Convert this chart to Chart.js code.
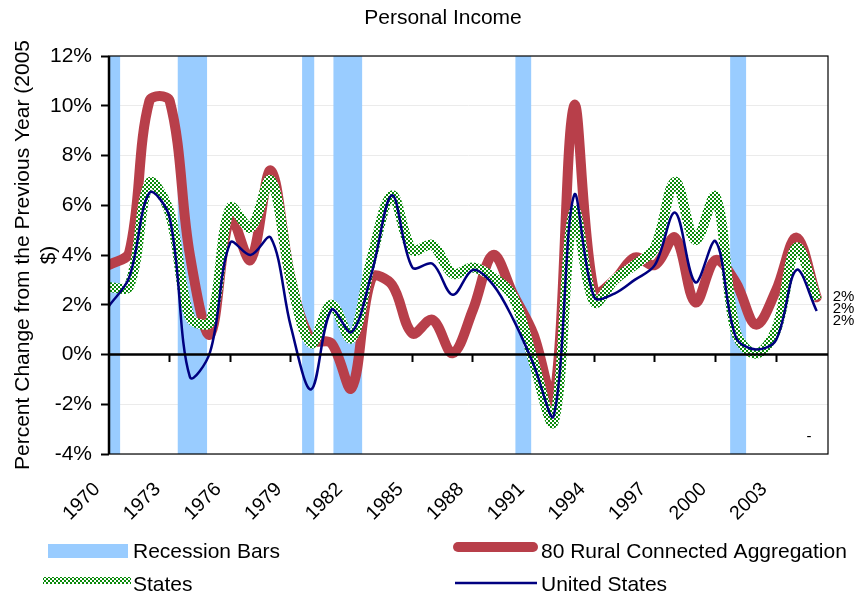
<!DOCTYPE html>
<html>
<head>
<meta charset="utf-8">
<title>Personal Income</title>
<script src="https://cdn.jsdelivr.net/npm/chart.js@4.4.1/dist/chart.umd.min.js"></script>
<style>
  html, body { margin: 0; padding: 0; background: #fff; }
</style>
</head>
<body>
<canvas id="myChart" width="858" height="596"></canvas>
<script>
// Real personal income, % change from previous year
const years = [1970, 1971, 1972, 1973, 1974, 1975, 1976, 1977, 1978, 1979,
               1980, 1981, 1982, 1983, 1984, 1985, 1986, 1987, 1988, 1989,
               1990, 1991, 1992, 1993, 1994, 1995, 1996, 1997, 1998, 1999,
               2000, 2001, 2002, 2003, 2004, 2005];
const rural = [3.6, 4.1, 10.2, 10.2, 4.0, 0.8, 5.5, 3.8, 7.4, 3.0,
               0.6, 0.45, -1.35, 3.1, 2.8, 0.85, 1.4, 0.05, 1.8, 4.0,
               2.4, 0.8, -1.8, 10.0, 2.5, 3.0, 3.9, 3.6, 4.7, 2.1,
               3.8, 2.9, 1.2, 2.6, 4.7, 2.3];
const states = [2.7, 2.75, 6.9, 5.7, 1.5, 1.3, 5.9, 5.1, 7.0, 3.0,
                0.45, 2.0, 0.65, 3.9, 6.4, 4.2, 4.4, 3.25, 3.5, 3.1,
                2.3, -0.3, -2.7, 5.75, 2.1, 3.0, 3.6, 4.3, 6.95, 4.6,
                6.35, 0.9, 0.03, 1.0, 4.3, 2.2];
const unitedStates = [1.95, 3.1, 6.5, 5.5, -0.9, 0.1, 4.5, 4.0, 4.7, 1.1,
                      -1.4, 1.8, 0.9, 3.3, 6.4, 3.5, 3.65, 2.4, 3.4, 2.8,
                      1.4, -0.4, -2.45, 6.4, 2.3, 2.45, 3.0, 3.6, 5.7, 2.9,
                      4.55, 0.7, 0.2, 0.6, 3.4, 1.75];

// recession periods (fractional years)
const recessionStart = [1969.5, 1973.4, 1979.55, 1981.1, 1990.1, 2000.72];
const recessionEnd = [1970.55, 1974.85, 1980.15, 1982.52, 1990.88, 2001.52];

const tickYears = [1970, 1973, 1976, 1979, 1982, 1985, 1988, 1991, 1994, 1997, 2000, 2003];
const yMin = -4;
const yMax = 12;
const xMax = 2005.56;

const FONT = "'Liberation Sans', Arial, Helvetica, sans-serif";
Chart.defaults.font.family = FONT;
Chart.defaults.color = '#000';

const canvas = document.getElementById('myChart');
const ctx = canvas.getContext('2d');

// green / white checker used for the States line
function checker() {
    const c = document.createElement('canvas');
    c.width = 4;
    c.height = 4;
    const g = c.getContext('2d');
    g.fillStyle = '#ffffff';
    g.fillRect(0, 0, 4, 4);
    g.fillStyle = '#0a8a0a';
    g.fillRect(0, 0, 2, 2);
    g.fillRect(2, 2, 2, 2);
    return ctx.createPattern(c, 'repeat');
}
const statesPattern = checker();

function points(values) {
    return values.map((v, i) => ({ x: years[i], y: v }));
}

// each recession becomes a block rising from the bottom of the scale
const recessionPoints = [];
for (let i = 0; i < recessionStart.length; i++) {
    recessionPoints.push({ x: recessionStart[i], y: yMin });
    recessionPoints.push({ x: recessionStart[i], y: yMax });
    recessionPoints.push({ x: recessionEnd[i], y: yMax });
    recessionPoints.push({ x: recessionEnd[i], y: yMin });
}

const setYearTicks = scale => { scale.ticks = tickYears.map(v => ({ value: v })); };

const decorations = {
    id: 'decorations',
    afterDatasetsDraw(chart) {
        const { ctx, chartArea: a, scales } = chart;
        const y0 = scales.y.getPixelForValue(0);
        ctx.save();
        ctx.strokeStyle = '#000';
        ctx.lineWidth = 1.2;
        ctx.strokeRect(a.left, a.top, a.right - a.left, a.bottom - a.top);
        ctx.lineWidth = 2.5;
        ctx.beginPath();
        ctx.moveTo(a.left, y0);
        ctx.lineTo(a.right, y0);
        ctx.moveTo(a.left, a.top);
        ctx.lineTo(a.left, a.bottom);
        ctx.stroke();
        ctx.restore();
    },
    afterDraw(chart) {
        const { ctx, scales } = chart;
        const ds = chart.data.datasets;
        ctx.save();
        ctx.fillStyle = '#000';

        // title
        ctx.font = '21px ' + FONT;
        ctx.textAlign = 'center';
        ctx.textBaseline = 'alphabetic';
        ctx.fillText('Personal Income', 443, 23.5);

        // value labels at the end of each line
        ctx.font = '15px ' + FONT;
        ctx.textAlign = 'left';
        ctx.textBaseline = 'middle';
        const last = years.length - 1;
        let prevY = -Infinity;
        [1, 2, 3].forEach(di => {
            const pt = chart.getDatasetMeta(di).data[last];
            const y = Math.max(pt.y, prevY + 12);
            prevY = y;
            ctx.fillText(Math.round(ds[di].data[last].y) + '%', pt.x + 16, y);
        });
        ctx.fillText('-', scales.x.getPixelForValue(2004.5), scales.y.getPixelForValue(-3.3));

        // legend, two columns
        const swatchX = [[48, 128], [458, 533], [43, 131], [455, 537]];
        const swatchY = [551, 547, 580.5, 583];
        const swatchW = [14, 10, 7, 2.5];
        const textX = [133, 541];
        const baseline = [558, 591];
        ctx.font = '21px ' + FONT;
        ctx.textBaseline = 'alphabetic';
        ds.forEach((d, i) => {
            const [x1, x2] = swatchX[i];
            if (i === 0) {
                ctx.fillStyle = d.backgroundColor;
                ctx.fillRect(x1, swatchY[i] - swatchW[i] / 2, x2 - x1, swatchW[i]);
            } else {
                ctx.strokeStyle = d.borderColor;
                ctx.lineWidth = swatchW[i];
                ctx.lineCap = i === 1 ? 'round' : 'butt';
                ctx.beginPath();
                ctx.moveTo(x1, swatchY[i]);
                ctx.lineTo(x2, swatchY[i]);
                ctx.stroke();
            }
            ctx.fillStyle = '#000';
            ctx.fillText(d.label, textX[i % 2], baseline[Math.floor(i / 2)]);
        });
        ctx.restore();
    }
};

const lineStyle = { fill: false, pointRadius: 0, tension: 0.35, borderJoinStyle: 'round' };

new Chart(ctx, {
    type: 'line',
    data: {
        datasets: [{
            label: 'Recession Bars',
            data: recessionPoints,
            backgroundColor: '#99CCFF',
            borderColor: 'rgba(0,0,0,0)',
            borderWidth: 0,
            fill: 'start',
            tension: 0,
            pointRadius: 0,
            order: 4
        }, {
            ...lineStyle,
            label: '80 Rural Connected Aggregation',
            data: points(rural),
            borderColor: '#B83F4A',
            borderWidth: 10,
            borderCapStyle: 'round',
            order: 3
        }, {
            ...lineStyle,
            label: 'States',
            data: points(states),
            borderColor: statesPattern,
            borderWidth: 10,
            order: 2
        }, {
            ...lineStyle,
            label: 'United States',
            data: points(unitedStates),
            borderColor: '#000080',
            borderWidth: 2.5,
            order: 1
        }]
    },
    options: {
        responsive: false,
        animation: false,
        layout: { padding: { top: 56, right: 30, left: 0, bottom: 0 } },
        plugins: {
            legend: { display: false },
            tooltip: { enabled: false }
        },
        scales: {
            x: {
                type: 'linear',
                min: 1970,
                max: xMax,
                afterBuildTicks: setYearTicks,
                afterFit: s => { s.height = 142; },
                ticks: {
                    autoSkip: false,
                    minRotation: 45,
                    maxRotation: 45,
                    padding: 24,
                    labelOffset: -12,
                    font: { size: 19.5 },
                    callback: v => String(v)
                },
                grid: { display: false, drawTicks: false },
                border: { display: false }
            },
            xz: {
                axis: 'x',
                type: 'linear',
                min: 1970,
                max: xMax,
                position: { y: 0 },
                z: 1,
                afterBuildTicks: setYearTicks,
                ticks: { display: false },
                grid: { drawOnChartArea: false, drawTicks: true, tickLength: 7, tickColor: '#000', tickWidth: 2 },
                border: { display: false }
            },
            y: {
                min: yMin,
                max: yMax,
                afterFit: s => { s.width = 109; },
                ticks: {
                    stepSize: 2,
                    padding: 9,
                    font: { size: 21 },
                    callback: v => v + '%'
                },
                grid: { color: '#ebebeb', lineWidth: 1, tickColor: '#000', tickLength: 8, tickWidth: 2 },
                border: { display: false },
                title: {
                    display: true,
                    text: ['Percent Change from the Previous Year (2005', '$)'],
                    font: { size: 21 },
                    padding: { top: 11, bottom: 0 }
                }
            }
        }
    },
    plugins: [decorations]
});
</script>
</body>
</html>
